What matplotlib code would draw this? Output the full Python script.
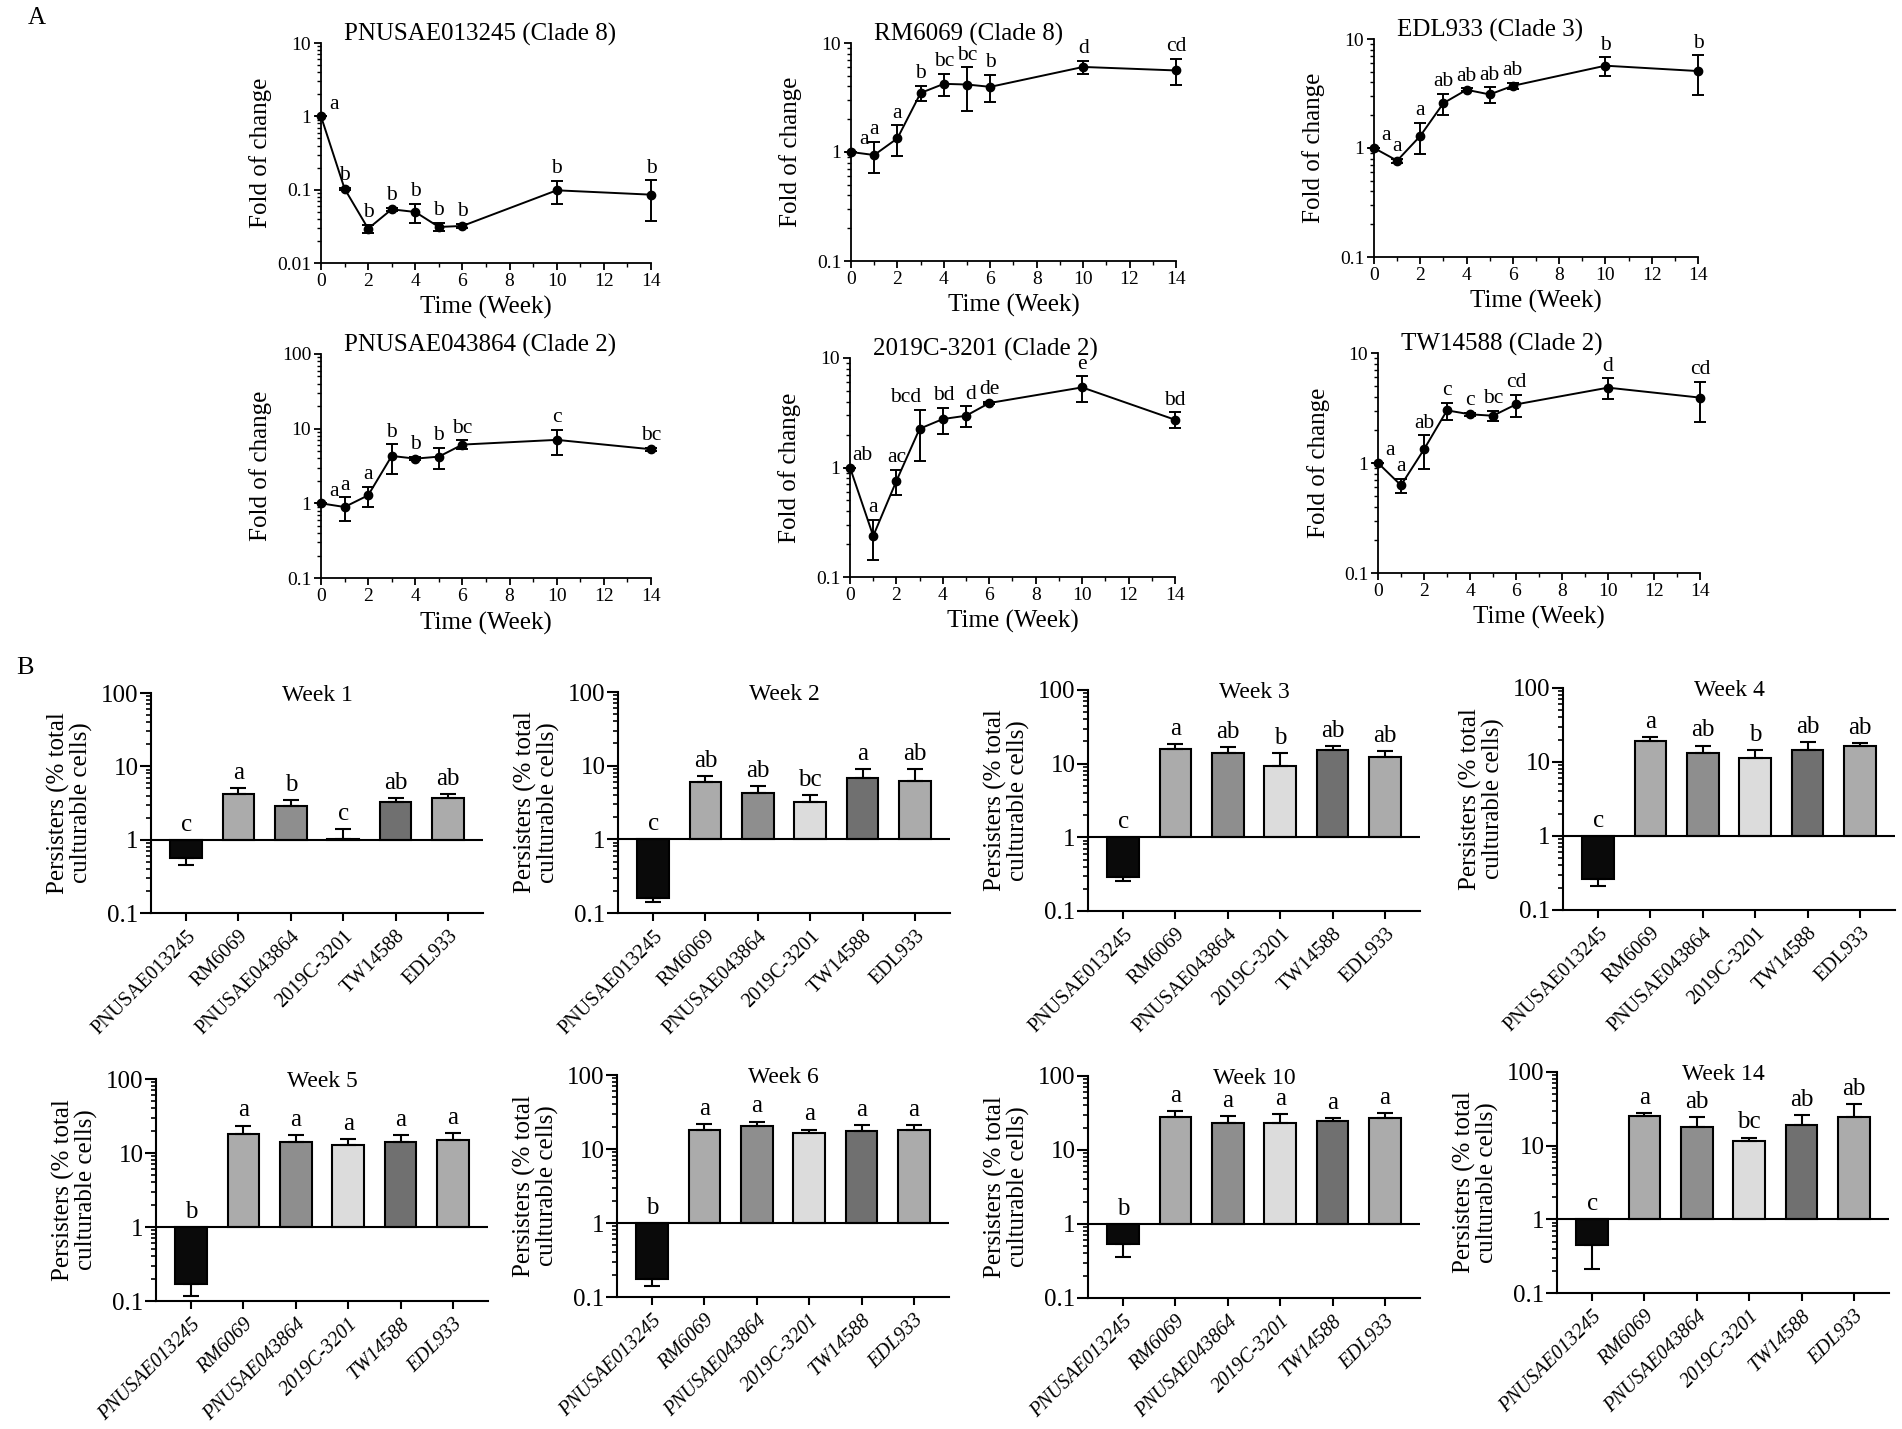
import numpy as np
import matplotlib
matplotlib.use("Agg")
import matplotlib.pyplot as plt
from matplotlib.ticker import LogLocator, FuncFormatter, NullFormatter, MultipleLocator

plt.rcParams['font.family'] = ['Liberation Serif', 'DejaVu Serif']

W, H = 1902, 1429

# ---------------- panel A data: fold of change (mean, SD) ----------------
weeks = [0, 1, 2, 3, 4, 5, 6, 10, 14]

a_titles = ['PNUSAE013245 (Clade 8)', 'RM6069 (Clade 8)', 'EDL933 (Clade 3)',
            'PNUSAE043864 (Clade 2)', '2019C-3201 (Clade 2)', 'TW14588 (Clade 2)']

fold_013245 = [1.0, 0.103, 0.0294, 0.054, 0.0496, 0.031, 0.032, 0.098, 0.0855]
sd_013245 = [0, 0.004, 0.0035, 0.003, 0.014, 0.004, 0.002, 0.034, 0.048]
let_013245 = ['a', 'b', 'b', 'b', 'b', 'b', 'b', 'b', 'b']

fold_rm6069 = [1.0, 0.938, 1.335, 3.48, 4.22, 4.16, 3.96, 6.03, 5.6]
sd_rm6069 = [0, 0.29, 0.42, 0.55, 0.95, 1.8, 1.1, 0.85, 1.5]
let_rm6069 = ['a', 'a', 'a', 'b', 'bc', 'bc', 'b', 'd', 'cd']

fold_edl933 = [1.0, 0.765, 1.29, 2.58, 3.42, 3.1, 3.72, 5.69, 5.08]
sd_edl933 = [0, 0.03, 0.41, 0.57, 0.1, 0.5, 0.25, 1.1, 2.0]
let_edl933 = ['a', 'a', 'a', 'ab', 'ab', 'ab', 'ab', 'b', 'b']

fold_043864 = [1.0, 0.893, 1.28, 4.31, 3.97, 4.22, 6.12, 7.08, 5.3]
sd_043864 = [0, 0.31, 0.38, 1.85, 0.2, 1.35, 0.85, 2.6, 0.2]
let_043864 = ['a', 'a', 'a', 'b', 'b', 'b', 'bc', 'c', 'bc']

fold_3201 = [1.0, 0.237, 0.755, 2.26, 2.77, 2.97, 3.88, 5.39, 2.73]
sd_3201 = [0, 0.095, 0.2, 1.12, 0.75, 0.64, 0.1, 1.4, 0.45]
let_3201 = ['ab', 'a', 'ac', 'bcd', 'bd', 'd', 'de', 'e', 'bd']

fold_tw14588 = [1.0, 0.627, 1.33, 3.01, 2.77, 2.69, 3.41, 4.84, 3.93]
sd_tw14588 = [0, 0.095, 0.45, 0.53, 0.1, 0.29, 0.77, 1.05, 1.55]
let_tw14588 = ['a', 'a', 'ab', 'c', 'c', 'bc', 'cd', 'd', 'cd']

a_folds = [fold_013245, fold_rm6069, fold_edl933, fold_043864, fold_3201, fold_tw14588]
a_sds = [sd_013245, sd_rm6069, sd_edl933, sd_043864, sd_3201, sd_tw14588]
a_lets = [let_013245, let_rm6069, let_edl933, let_043864, let_3201, let_tw14588]
a_ylims = [(0.01, 10), (0.1, 10), (0.1, 10), (0.1, 100), (0.1, 10), (0.1, 10)]

# ---------------- panel B data: persisters (% total culturable cells) ----------------
strains = ['PNUSAE013245', 'RM6069', 'PNUSAE043864', '2019C-3201', 'TW14588', 'EDL933']
bar_colors = ['#0a0a0a', '#ababab', '#8e8e8e', '#dcdcdc', '#707070', '#ababab']
b_titles = ['Week 1', 'Week 2', 'Week 3', 'Week 4', 'Week 5', 'Week 6', 'Week 10', 'Week 14']

wk1 = [0.563, 4.18, 2.9, 1.03, 3.22, 3.68]
wk1_err = [0.106, 0.81, 0.56, 0.38, 0.46, 0.5]
wk1_let = ['c', 'a', 'b', 'c', 'ab', 'ab']

wk2 = [0.16, 5.94, 4.21, 3.21, 6.73, 6.2]
wk2_err = [0.019, 1.24, 1.1, 0.8, 2.17, 2.7]
wk2_let = ['c', 'ab', 'ab', 'bc', 'a', 'ab']

wk3 = [0.292, 15.8, 13.8, 9.4, 15.5, 12.2]
wk3_err = [0.034, 2.6, 3.2, 4.7, 1.7, 2.7]
wk3_let = ['c', 'a', 'ab', 'b', 'ab', 'ab']

wk4 = [0.264, 19.0, 13.3, 11.5, 14.6, 16.3]
wk4_err = [0.056, 2.5, 3.4, 3.1, 3.8, 1.8]
wk4_let = ['c', 'a', 'ab', 'b', 'ab', 'ab']

wk5 = [0.172, 18.3, 14.0, 12.8, 14.1, 14.9]
wk5_err = [0.055, 5.2, 3.5, 2.8, 3.4, 3.8]
wk5_let = ['b', 'a', 'a', 'a', 'a', 'a']

wk6 = [0.176, 18.1, 20.2, 16.6, 17.5, 17.9]
wk6_err = [0.033, 3.8, 3.3, 1.7, 3.7, 2.9]
wk6_let = ['b', 'a', 'a', 'a', 'a', 'a']

wk10 = [0.531, 27.9, 22.9, 22.9, 24.4, 26.8]
wk10_err = [0.17, 6.0, 5.8, 7.6, 2.9, 5.1]
wk10_let = ['b', 'a', 'a', 'a', 'a', 'a']

wk14 = [0.445, 25.2, 18.1, 11.6, 19.2, 24.7]
wk14_err = [0.232, 2.2, 6.1, 1.3, 6.6, 11.9]
wk14_let = ['c', 'a', 'ab', 'bc', 'ab', 'ab']

b_vals = [wk1, wk2, wk3, wk4, wk5, wk6, wk10, wk14]
b_errs = [wk1_err, wk2_err, wk3_err, wk4_err, wk5_err, wk6_err, wk10_err, wk14_err]
b_lets = [wk1_let, wk2_let, wk3_let, wk4_let, wk5_let, wk6_let, wk10_let, wk14_let]

# axes boxes in pixels (left, top, right, bottom)
a_boxes = [(321, 43, 651, 263), (851, 43, 1176, 261), (1374, 39, 1698, 257),
           (321, 354, 651, 578), (850, 358, 1175, 577), (1378, 353, 1700, 573)]
b_boxes = [(151, 693, 483, 913), (618, 692, 950, 913), (1088, 690, 1420, 911), (1563, 688, 1895, 910),
           (156, 1079, 488, 1301), (617, 1075, 949, 1297), (1088, 1076, 1420, 1298), (1557, 1072, 1889, 1293)]

# small sideways nudges (points) for crowded letters: (panel, point) -> dx
letter_nudge = {(4, 3): -10, (4, 4): 1, (4, 5): 3}


def px_axes(fig, box):
    l, t, r, b = box
    return fig.add_axes([l / W, 1 - b / H, (r - l) / W, (b - t) / H])


fmt = FuncFormatter(lambda v, _: '%g' % v)

fig = plt.figure(figsize=(W / 100, H / 100), dpi=100)

# ---------------- panel A ----------------
for i in range(6):
    ax = px_axes(fig, a_boxes[i])
    y = np.array(a_folds[i])
    sd = np.array(a_sds[i])
    ax.errorbar(weeks, y, yerr=sd, fmt='-o', color='k', ms=6, lw=1.4,
                elinewidth=1.4, capsize=4, capthick=1.4, clip_on=False, zorder=3)
    ax.set_yscale('log')
    ax.set_ylim(*a_ylims[i])
    ax.set_xlim(0, 14)
    ax.xaxis.set_major_locator(MultipleLocator(2))
    ax.xaxis.set_minor_locator(MultipleLocator(1))
    ax.yaxis.set_major_locator(LogLocator(base=10))
    ax.yaxis.set_minor_locator(LogLocator(base=10, subs=np.arange(2, 10)))
    ax.yaxis.set_major_formatter(fmt)
    ax.yaxis.set_minor_formatter(NullFormatter())
    for s in ['top', 'right']:
        ax.spines[s].set_visible(False)
    for s in ['left', 'bottom']:
        ax.spines[s].set_linewidth(1.3)
    ax.tick_params(which='major', direction='out', length=5, width=1.3, labelsize=14, pad=2)
    ax.tick_params(which='minor', direction='out', length=3, width=1.0)
    ax.set_xlabel('Time (Week)', fontsize=18)
    ax.xaxis.set_label_coords(0.5, -0.15)
    ax.set_ylabel('Fold of change', fontsize=18)
    ax.yaxis.set_label_coords(-0.15, 0.5)
    ax.text(0.07, 1.04, a_titles[i], transform=ax.transAxes, ha='left', va='center', fontsize=18)
    for j, w in enumerate(weeks):
        dx = 9 if j == 0 else letter_nudge.get((i, j), 0)
        ax.annotate(a_lets[i][j], (w, y[j] + sd[j]), xytext=(dx, 2), textcoords='offset points',
                    ha='center', va='bottom', fontsize=15.5, annotation_clip=False)

# ---------------- panel B ----------------
xpos = np.arange(len(strains))
for k in range(8):
    ax = px_axes(fig, b_boxes[k])
    v = np.array(b_vals[k])
    e = np.array(b_errs[k])
    ax.bar(xpos, v - 1, bottom=1, width=0.6, color=bar_colors, edgecolor='k', linewidth=1.5, zorder=2)
    lo = np.where(v < 1, e, 0)
    hi = np.where(v >= 1, e, 0)
    ax.errorbar(xpos, v, yerr=[lo, hi], fmt='none', ecolor='k', elinewidth=1.5,
                capsize=6, capthick=1.5, zorder=3)
    ax.axhline(1, color='k', lw=1.5, zorder=4)
    ax.set_yscale('log')
    ax.set_ylim(0.1, 100)
    ax.set_xlim(-0.67, 5.67)
    ax.yaxis.set_major_locator(LogLocator(base=10))
    ax.yaxis.set_minor_locator(LogLocator(base=10, subs=np.arange(2, 10)))
    ax.yaxis.set_major_formatter(fmt)
    ax.yaxis.set_minor_formatter(NullFormatter())
    ax.set_xticks(xpos)
    ax.set_xticklabels(strains, rotation=45, ha='right', rotation_mode='anchor',
                       fontsize=14.5, fontstyle='italic' if k >= 4 else 'normal')
    for s in ['top', 'right']:
        ax.spines[s].set_visible(False)
    for s in ['left', 'bottom']:
        ax.spines[s].set_linewidth(1.5)
    ax.tick_params(axis='y', which='major', direction='out', length=8, width=1.5, labelsize=18, pad=1)
    ax.tick_params(axis='y', which='minor', direction='out', length=3.5, width=1.2)
    ax.tick_params(axis='x', direction='out', length=6, width=1.5, pad=4)
    ax.set_ylabel('Persisters (% total\nculturable cells)', fontsize=18, linespacing=1.0)
    ax.yaxis.set_label_coords(-0.175, 0.5)
    ax.text(0.5, 0.99, b_titles[k], transform=ax.transAxes, ha='center', va='center', fontsize=17)
    for j in range(len(strains)):
        base = v[j] + e[j] if v[j] >= 1 else 1
        ax.annotate(b_lets[k][j], (xpos[j], base), xytext=(0, 3), textcoords='offset points',
                    ha='center', va='bottom', fontsize=18, annotation_clip=False)

fig.text(37 / W, 1 - 18 / H, 'A', ha='center', va='center', fontsize=18)
fig.text(25 / W, 1 - 668 / H, 'B', ha='center', va='center', fontsize=19)

fig.savefig('out.png', dpi=100)
